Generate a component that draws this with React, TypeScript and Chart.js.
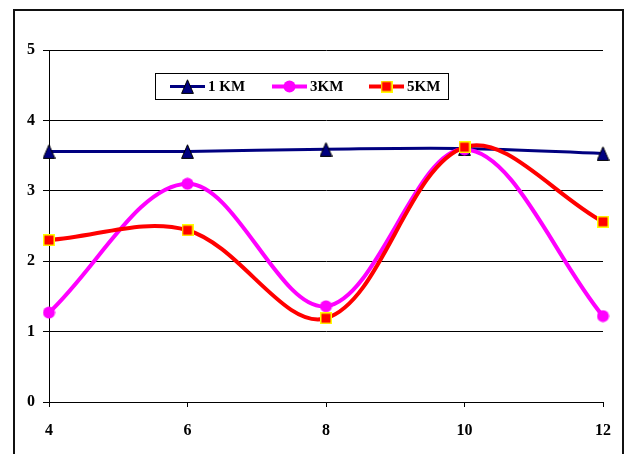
import React, { useEffect, useRef } from "react";
import { Chart, registerables } from "chart.js";

Chart.register(...registerables);

// ---- data ----
const xValues = [4, 6, 8, 10, 12];
const km1 = [3.56, 3.56, 3.59, 3.6, 3.53];
const km3 = [1.27, 3.1, 1.36, 3.59, 1.22];
const km5 = [2.3, 2.44, 1.19, 3.62, 2.56];
const seriesNames = ["1 KM", "3KM", "5KM"];
const yMin = 0;
const yMax = 5;
const xMin = 4;
const xMax = 12;

const FONT = '"Liberation Serif", "Times New Roman", serif';

function makeCanvas(w: number, h: number) {
  const c = document.createElement("canvas");
  c.width = w;
  c.height = h;
  return c;
}

function triangleMarker() {
  const c = makeCanvas(13, 15);
  const g = c.getContext("2d")!;
  g.beginPath();
  g.moveTo(6.5, 0.8);
  g.lineTo(12.4, 14.4);
  g.lineTo(0.6, 14.4);
  g.closePath();
  g.fillStyle = "#000080";
  g.fill();
  g.strokeStyle = "#000000";
  g.lineWidth = 1;
  g.stroke();
  return c;
}

function circleMarker() {
  const c = makeCanvas(13, 13);
  const g = c.getContext("2d")!;
  g.beginPath();
  g.arc(6.5, 6.5, 6, 0, Math.PI * 2);
  g.fillStyle = "#FF00FF";
  g.fill();
  return c;
}

function squareMarker() {
  const c = makeCanvas(12, 12);
  const g = c.getContext("2d")!;
  g.fillStyle = "#FFFF00";
  g.fillRect(0, 0, 12, 12);
  g.fillStyle = "#FF0000";
  g.fillRect(1.5, 1.5, 9, 9);
  return c;
}

const framePlugin = {
  id: "frame",
  beforeDraw(chart: any) {
    const ctx = chart.ctx;
    ctx.save();
    ctx.fillStyle = "#ffffff";
    ctx.fillRect(0, 0, chart.width, chart.height);
    ctx.strokeStyle = "#111111";
    ctx.lineWidth = 2;
    ctx.strokeRect(14, 10, 609, 470);
    ctx.restore();
  },
};

const legendPlugin = {
  id: "boxLegend",
  afterDraw(chart: any) {
    const ctx = chart.ctx;
    const ds = chart.data.datasets;
    const itemX = [170, 272, 369];
    const y = 86.5;
    ctx.save();
    ctx.fillStyle = "#ffffff";
    ctx.fillRect(155.5, 73.5, 293, 26);
    ctx.strokeStyle = "#000000";
    ctx.lineWidth = 1;
    ctx.strokeRect(155.5, 73.5, 293, 26);
    ds.forEach((d: any, i: number) => {
      const x0 = itemX[i];
      ctx.strokeStyle = d.borderColor;
      ctx.lineWidth = d.borderWidth;
      ctx.beginPath();
      ctx.moveTo(x0, y);
      ctx.lineTo(x0 + 35, y);
      ctx.stroke();
      const img = d.pointStyle as HTMLCanvasElement;
      ctx.drawImage(img, x0 + 17.5 - img.width / 2, y - img.height / 2);
      ctx.fillStyle = "#000000";
      ctx.font = `bold 15px ${FONT}`;
      ctx.textBaseline = "middle";
      ctx.textAlign = "left";
      ctx.fillText(d.label, x0 + 38, y + 1);
    });
    ctx.restore();
  },
};

export default function App() {
  const ref = useRef<HTMLCanvasElement>(null);

  useEffect(() => {
    if (!ref.current) return;
    const toPts = (arr: number[]) => xValues.map((x, i) => ({ x, y: arr[i] }));
    const chart = new Chart(ref.current, {
      type: "line",
      data: {
        datasets: [
          {
            label: seriesNames[0],
            data: toPts(km1),
            borderColor: "#000080",
            backgroundColor: "#000080",
            borderWidth: 3,
            pointStyle: triangleMarker() as any,
            tension: 0.35,
            clip: false,
            order: 2,
          },
          {
            label: seriesNames[1],
            data: toPts(km3),
            borderColor: "#FF00FF",
            backgroundColor: "#FF00FF",
            borderWidth: 4,
            pointStyle: circleMarker() as any,
            tension: 0.35,
            clip: false,
            order: 1,
          },
          {
            label: seriesNames[2],
            data: toPts(km5),
            borderColor: "#FF0000",
            backgroundColor: "#FF0000",
            borderWidth: 4,
            pointStyle: squareMarker() as any,
            tension: 0.35,
            clip: false,
            order: 0,
          },
        ],
      },
      options: {
        animation: false,
        responsive: false,
        devicePixelRatio: 1,
        layout: { padding: { top: 50, right: 22, left: 0, bottom: 0 } },
        plugins: {
          legend: { display: false },
          tooltip: { enabled: false },
        },
        scales: {
          x: {
            type: "linear",
            min: xMin,
            max: xMax,
            afterFit: (s: any) => {
              s.height = 52;
            },
            ticks: {
              stepSize: 2,
              color: "#000000",
              font: { family: FONT, size: 16, weight: "bold" },
              padding: 14,
              maxRotation: 0,
            },
            grid: {
              drawOnChartArea: false,
              drawTicks: true,
              tickLength: 5,
              color: "#000000",
            },
            border: { display: true, color: "#000000", width: 1 },
          },
          y: {
            min: yMin,
            max: yMax,
            afterFit: (s: any) => {
              s.width = 49;
            },
            ticks: {
              stepSize: 1,
              color: "#000000",
              font: { family: FONT, size: 16, weight: "bold" },
              padding: 8,
            },
            grid: {
              drawOnChartArea: true,
              drawTicks: true,
              tickLength: 6,
              color: "#000000",
              lineWidth: 1,
            },
            border: { display: true, color: "#000000", width: 1 },
          },
        },
      },
      plugins: [framePlugin, legendPlugin],
    });
    return () => chart.destroy();
  }, []);

  return (
    <div style={{ position: "absolute", left: 0, top: 0, width: 625, height: 454 }}>
      <canvas ref={ref} width={625} height={454} />
    </div>
  );
}
